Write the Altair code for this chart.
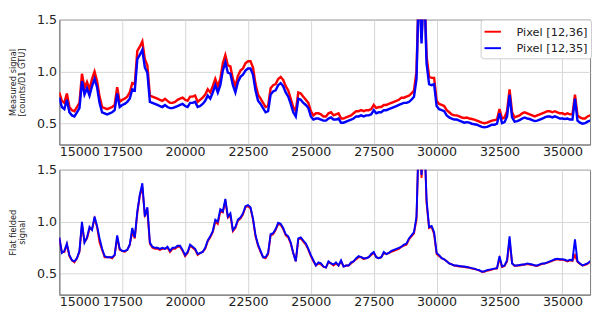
import altair as alt
import pandas as pd

# frame number (GTU) axis, one sample every 100 GTU
time = list(range(15000, 36300, 100))

# Top panel: measured signal
top_red = [
    0.80, 0.72, 0.70, 0.79, 0.66, 0.63, 0.62, 0.66, 0.70, 0.98,
    0.84, 0.90, 0.83, 0.93, 1.00, 0.91, 0.76, 0.66, 0.65, 0.64,
    0.65, 0.66, 0.68, 0.85, 0.71, 0.73, 0.74, 0.76, 0.80, 0.89,
    0.88, 1.20, 1.24, 1.29, 1.12, 1.06, 0.77, 0.76, 0.75, 0.74,
    0.73, 0.72, 0.74, 0.72, 0.70, 0.70, 0.71, 0.73, 0.74, 0.75,
    0.73, 0.72, 0.76, 0.76, 0.77, 0.71, 0.73, 0.75, 0.78, 0.83,
    0.80, 0.86, 0.93, 0.86, 0.93, 1.08, 1.16, 1.06, 1.05, 0.93,
    0.86, 0.96, 1.01, 1.03, 1.08, 1.10, 1.10, 1.04, 0.88, 0.78,
    0.74, 0.70, 0.66, 0.67, 0.84, 0.87, 0.88, 0.93, 0.95, 0.92,
    0.86, 0.82, 0.74, 0.66, 0.62, 0.80, 0.79, 0.76, 0.73, 0.70,
    0.62, 0.58, 0.60, 0.60, 0.59, 0.57, 0.57, 0.60, 0.61, 0.58,
    0.59, 0.60, 0.55, 0.55, 0.56, 0.57, 0.58, 0.60, 0.62, 0.62,
    0.63, 0.62, 0.63, 0.63, 0.64, 0.68, 0.65, 0.66, 0.66, 0.68,
    0.68, 0.69, 0.70, 0.71, 0.72, 0.73, 0.75, 0.75, 0.76, 0.77,
    0.79, 0.82, 1.00, 1.90, 1.32, 1.90, 1.15, 0.95, 0.94, 0.94,
    0.72, 0.69, 0.68, 0.67, 0.63, 0.61, 0.59, 0.58, 0.58, 0.57,
    0.56, 0.555, 0.56, 0.55, 0.545, 0.54, 0.53, 0.52, 0.51, 0.505,
    0.51, 0.52, 0.53, 0.535, 0.54, 0.64, 0.55, 0.56, 0.62, 0.83,
    0.61, 0.56, 0.57, 0.58, 0.60, 0.61, 0.60, 0.59, 0.58, 0.57,
    0.58, 0.59, 0.60, 0.61, 0.62, 0.62, 0.61, 0.62, 0.61, 0.60,
    0.60, 0.59, 0.60, 0.59, 0.59, 0.78, 0.58, 0.56, 0.55, 0.55,
    0.57, 0.58, 0.58,
]
top_blue = [
    0.75, 0.66, 0.64, 0.73, 0.61, 0.58, 0.57, 0.61, 0.65, 0.91,
    0.78, 0.84, 0.77, 0.86, 0.93, 0.85, 0.70, 0.61, 0.60, 0.59,
    0.60, 0.61, 0.63, 0.79, 0.66, 0.68, 0.69, 0.71, 0.74, 0.83,
    0.82, 1.12, 1.16, 1.21, 1.04, 0.99, 0.71, 0.70, 0.69, 0.68,
    0.67, 0.66, 0.68, 0.66, 0.65, 0.65, 0.66, 0.67, 0.68, 0.69,
    0.67, 0.66, 0.70, 0.70, 0.71, 0.66, 0.67, 0.69, 0.72, 0.77,
    0.74, 0.80, 0.87, 0.80, 0.87, 1.01, 1.09, 0.99, 0.98, 0.87,
    0.80, 0.90, 0.95, 0.97, 1.01, 1.03, 1.03, 0.97, 0.82, 0.72,
    0.69, 0.65, 0.61, 0.62, 0.78, 0.81, 0.82, 0.87, 0.89, 0.86,
    0.80, 0.76, 0.69, 0.61, 0.57, 0.74, 0.73, 0.70, 0.68, 0.65,
    0.57, 0.54, 0.55, 0.55, 0.54, 0.53, 0.53, 0.55, 0.56, 0.54,
    0.54, 0.55, 0.51, 0.51, 0.52, 0.53, 0.54, 0.55, 0.57, 0.57,
    0.58, 0.57, 0.58, 0.58, 0.59, 0.63, 0.60, 0.61, 0.61, 0.63,
    0.63, 0.64, 0.65, 0.66, 0.67, 0.68, 0.69, 0.70, 0.70, 0.71,
    0.73, 0.76, 0.93, 1.90, 1.27, 1.90, 1.08, 0.88, 0.87, 0.88,
    0.67, 0.64, 0.63, 0.62, 0.58, 0.56, 0.55, 0.54, 0.54, 0.53,
    0.52, 0.51, 0.515, 0.51, 0.50, 0.495, 0.49, 0.48, 0.47, 0.465,
    0.47, 0.48, 0.49, 0.49, 0.50, 0.60, 0.505, 0.515, 0.57, 0.78,
    0.56, 0.52, 0.525, 0.535, 0.55, 0.56, 0.55, 0.545, 0.535, 0.525,
    0.53, 0.54, 0.55, 0.56, 0.57, 0.57, 0.56, 0.57, 0.56, 0.55,
    0.55, 0.545, 0.55, 0.54, 0.54, 0.74, 0.53, 0.51, 0.50, 0.505,
    0.52, 0.53, 0.53,
]

# Bottom panel: flat fielded signal
bot_red = [
    0.84, 0.71, 0.71, 0.78, 0.67, 0.63, 0.61, 0.65, 0.71, 0.97,
    0.81, 0.84, 0.93, 0.93, 1.03, 0.95, 0.80, 0.73, 0.66, 0.66,
    0.66, 0.65, 0.68, 0.85, 0.73, 0.72, 0.71, 0.73, 0.78, 0.90,
    0.84, 1.08, 1.25, 1.33, 1.06, 1.10, 0.79, 0.75, 0.74, 0.74,
    0.73, 0.74, 0.74, 0.75, 0.71, 0.74, 0.74, 0.76, 0.76, 0.72,
    0.67, 0.70, 0.77, 0.75, 0.73, 0.68, 0.70, 0.71, 0.74, 0.81,
    0.85, 0.90, 1.00, 0.98, 1.10, 1.09, 1.20, 1.04, 1.06, 0.91,
    0.94, 1.01, 1.03, 1.07, 1.14, 1.15, 1.13, 1.02, 0.86, 0.77,
    0.71, 0.66, 0.65, 0.69, 0.87, 0.88, 0.92, 0.98, 0.97, 0.93,
    0.87, 0.85, 0.79, 0.70, 0.62, 0.83, 0.84, 0.81, 0.78, 0.73,
    0.67, 0.62, 0.58, 0.60, 0.59, 0.57, 0.56, 0.61, 0.60, 0.58,
    0.60, 0.58, 0.62, 0.57, 0.58, 0.58, 0.60, 0.62, 0.64, 0.66,
    0.66, 0.64, 0.65, 0.66, 0.68, 0.70, 0.66, 0.65, 0.66, 0.70,
    0.69, 0.70, 0.71, 0.72, 0.73, 0.74, 0.76, 0.77, 0.78, 0.83,
    0.86, 0.89, 1.02, 1.90, 1.42, 1.90, 1.18, 0.94, 0.95, 0.88,
    0.69, 0.67, 0.65, 0.64, 0.62, 0.60, 0.59, 0.58, 0.575, 0.57,
    0.57, 0.565, 0.56, 0.56, 0.55, 0.545, 0.54, 0.53, 0.52, 0.52,
    0.53, 0.535, 0.54, 0.55, 0.55, 0.65, 0.565, 0.575, 0.62, 0.82,
    0.60, 0.575, 0.58, 0.58, 0.585, 0.59, 0.595, 0.59, 0.585, 0.58,
    0.575, 0.585, 0.595, 0.60, 0.605, 0.615, 0.625, 0.635, 0.64, 0.635,
    0.635, 0.63, 0.62, 0.63, 0.625, 0.68, 0.615, 0.595, 0.58, 0.585,
    0.595, 0.615, 0.605,
]
bot_blue = [
    0.85, 0.70, 0.72, 0.79, 0.68, 0.63, 0.62, 0.65, 0.72, 1.00,
    0.80, 0.85, 0.95, 0.92, 1.05, 0.96, 0.84, 0.74, 0.67, 0.66,
    0.66, 0.66, 0.68, 0.87, 0.74, 0.72, 0.72, 0.73, 0.78, 0.94,
    0.85, 1.10, 1.26, 1.37, 1.05, 1.14, 0.80, 0.76, 0.75, 0.75,
    0.74, 0.75, 0.74, 0.76, 0.72, 0.75, 0.75, 0.77, 0.77, 0.73,
    0.68, 0.71, 0.78, 0.76, 0.74, 0.69, 0.70, 0.71, 0.75, 0.82,
    0.86, 0.91, 1.02, 1.00, 1.12, 1.10, 1.22, 1.05, 1.08, 0.92,
    0.95, 1.02, 1.04, 1.08, 1.15, 1.16, 1.14, 1.03, 0.87, 0.78,
    0.72, 0.66, 0.66, 0.70, 0.88, 0.89, 0.93, 0.99, 0.98, 0.94,
    0.88, 0.86, 0.80, 0.70, 0.62, 0.84, 0.85, 0.82, 0.79, 0.74,
    0.68, 0.63, 0.58, 0.61, 0.60, 0.57, 0.56, 0.62, 0.60, 0.59,
    0.61, 0.58, 0.63, 0.57, 0.58, 0.58, 0.61, 0.62, 0.65, 0.67,
    0.66, 0.65, 0.65, 0.66, 0.69, 0.71, 0.66, 0.65, 0.66, 0.71,
    0.69, 0.70, 0.72, 0.73, 0.74, 0.75, 0.76, 0.78, 0.79, 0.84,
    0.87, 0.90, 1.05, 1.90, 1.45, 1.90, 1.21, 0.95, 0.96, 0.90,
    0.70, 0.68, 0.65, 0.64, 0.62, 0.60, 0.59, 0.58, 0.58, 0.575,
    0.57, 0.57, 0.565, 0.56, 0.555, 0.55, 0.54, 0.535, 0.52, 0.525,
    0.535, 0.54, 0.545, 0.55, 0.555, 0.67, 0.57, 0.58, 0.63, 0.86,
    0.60, 0.58, 0.58, 0.585, 0.59, 0.59, 0.60, 0.595, 0.59, 0.58,
    0.58, 0.59, 0.60, 0.60, 0.61, 0.62, 0.63, 0.64, 0.645, 0.64,
    0.64, 0.635, 0.625, 0.635, 0.63, 0.83, 0.62, 0.60, 0.58, 0.59,
    0.60, 0.62, 0.61,
]

LBL_R = "Pixel [12,36]"
LBL_B = "Pixel [12,35]"
COL_R = "#ff0000"
COL_B = "#0000ff"
FONT = "DejaVu Sans"

x_ticks = [15000, 17500, 20000, 22500, 25000, 27500, 30000, 32500, 35000]
y_ticks = [0.5, 1.0, 1.5]


def panel(red, blue, title, sw, legend_sw, h, legend_y):
    df_r = pd.DataFrame({"t": time, "v": red, "s": LBL_R})
    df_b = pd.DataFrame({"t": time, "v": blue, "s": LBL_B})
    color = alt.Color(
        "s:N",
        scale=alt.Scale(domain=[LBL_R, LBL_B], range=[COL_R, COL_B]),
        legend=alt.Legend(
            title=None, orient="none", legendX=435, legendY=legend_y,
            symbolType="stroke", symbolSize=289, symbolStrokeWidth=legend_sw,
            labelOffset=15, labelFontSize=11.7, labelFont=FONT, labelColor="#222222",
            fillColor="white", strokeColor="#cccccc", cornerRadius=3,
            padding=3, rowPadding=0,
        ),
    )
    x = alt.X(
        "t:Q",
        scale=alt.Scale(domain=[15000, 36100], nice=False, zero=False),
        axis=alt.Axis(values=x_ticks, format="d", title=None, labelPadding=1),
    )
    y = alt.Y(
        "v:Q",
        scale=alt.Scale(domain=[0.3, 1.5], nice=False, zero=False),
        axis=alt.Axis(
            values=y_ticks, format=".1f", title=title, labelPadding=3,
            minExtent=31, maxExtent=31, titlePadding=3,
            titleFontSize=8.5, titleFont=FONT, titleFontWeight="normal",
            titleColor="#222222", titleLineHeight=9,
        ),
    )
    lr = alt.Chart(df_r).mark_line(clip=True, strokeWidth=sw).encode(x=x, y=y, color=color)
    lb = alt.Chart(df_b).mark_line(clip=True, strokeWidth=sw).encode(x=x, y=y, color=color)
    return alt.layer(lr, lb).properties(width=548, height=h)


top = panel(top_red, top_blue, ["Measured signal", "[counts/D1 GTU]"], 2.5, 2.0, 129, 0)
bottom = panel(bot_red, bot_blue, ["Flat fielded", "signal"], 2.0, 1.0, 129, 4)

chart = (
    alt.vconcat(top, bottom, spacing=4)
    .properties(padding={"left": 0, "top": 0, "right": 0, "bottom": 0}, background="white")
    .configure_view(stroke="#777777", strokeWidth=1)
    .configure_axis(
        labelFont=FONT, labelFontSize=13, labelColor="#222222",
        ticks=False, domainColor="#777777", domainWidth=1,
        grid=True, gridColor="#d6d6d6", gridWidth=1,
    )
)

chart.save("out.html", embed_options={"renderer": "svg", "actions": False})
